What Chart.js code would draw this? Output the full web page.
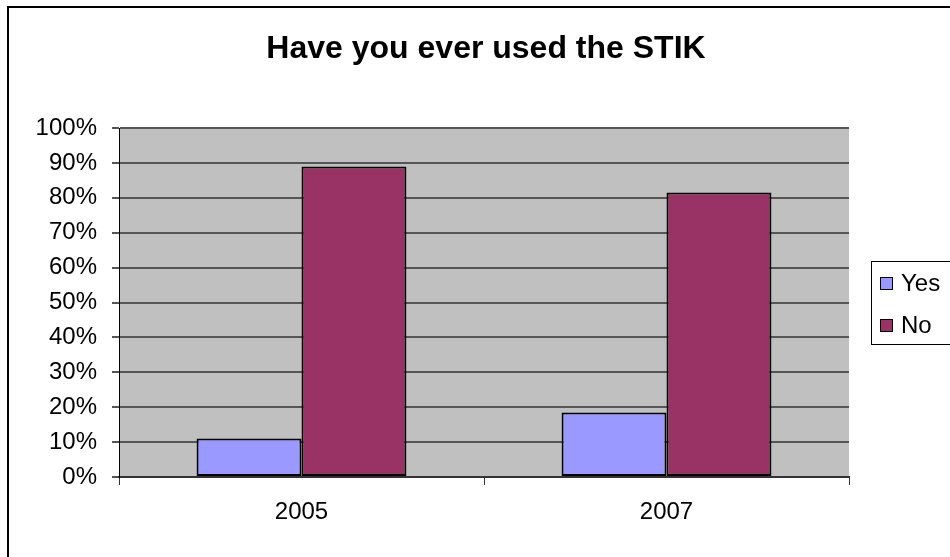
<!DOCTYPE html>
<html>
<head>
<meta charset="utf-8">
<script src="https://cdn.jsdelivr.net/npm/chart.js@4/dist/chart.umd.min.js"></script>
<style>
  html, body { margin: 0; padding: 0; background: #fff; }
  #wrap { width: 950px; height: 557px; }
</style>
</head>
<body>
<div id="wrap"><canvas id="stik" width="950" height="557"></canvas></div>
<script>
const TITLE = 'Have you ever used the STIK';
const years = ['2005', '2007'];
const yesVals = [11, 18.5];
const noVals = [89, 81.5];
const seriesNames = ['Yes', 'No'];
const seriesColors = ['#9999FF', '#993366'];

// frame, grey plot area, title and the boxed legend on the right
const excelLook = {
  id: 'excelLook',
  beforeDraw(chart) {
    const c = chart.ctx, a = chart.chartArea;
    c.save();
    c.fillStyle = '#C0C0C0';
    c.fillRect(a.left, a.top, a.right - a.left, a.bottom - a.top);
    c.restore();
  },
  afterDraw(chart) {
    const c = chart.ctx;
    c.save();
    // outer frame (only left and top edges are inside the picture)
    c.strokeStyle = '#000';
    c.lineWidth = 2;
    c.beginPath();
    c.moveTo(8, 560);
    c.lineTo(8, 7);
    c.lineTo(960, 7);
    c.stroke();

    c.fillStyle = '#000';
    c.font = 'bold 32px "Liberation Sans", Arial, sans-serif';
    c.textAlign = 'center';
    c.textBaseline = 'middle';
    c.fillText(TITLE, 486, 49);

    // legend
    c.lineWidth = 1;
    c.strokeStyle = '#000';
    c.strokeRect(871.5, 261.5, 100, 83);
    c.font = '24px "Liberation Sans", Arial, sans-serif';
    c.textAlign = 'left';
    chart.data.datasets.forEach((ds, i) => {
      const y = 283 + i * 42;
      c.fillStyle = ds.backgroundColor;
      c.fillRect(880, y - 6, 13, 13);
      c.strokeRect(880.5, y - 5.5, 12, 12);
      c.fillStyle = '#000';
      c.fillText(ds.label, 901, y + 1);
    });
    c.restore();
  }
};

new Chart(document.getElementById('stik'), {
  type: 'bar',
  data: {
    labels: years,
    datasets: [
      { label: seriesNames[0], data: yesVals, backgroundColor: seriesColors[0] },
      { label: seriesNames[1], data: noVals, backgroundColor: seriesColors[1] }
    ].map(d => Object.assign(d, {
      borderColor: '#000', borderWidth: 2, borderSkipped: false,
      categoryPercentage: 0.575, barPercentage: 1
    }))
  },
  options: {
    responsive: false,
    animation: false,
    layout: { padding: { top: 128, right: 101, left: 0, bottom: 0 } },
    plugins: { legend: { display: false }, title: { display: false }, tooltip: { enabled: false } },
    scales: {
      x: {
        grid: { display: true, drawOnChartArea: false, drawTicks: true, tickLength: 8, color: '#333', lineWidth: 1 },
        border: { color: '#333', width: 2 },
        ticks: { color: '#000', padding: 13, font: { family: '"Liberation Sans", Arial', size: 24 } },
        afterFit(s) { s.height = 80; }
      },
      y: {
        min: 0, max: 100,
        grid: { color: '#555', lineWidth: 2, tickLength: 7, drawTicks: true },
        border: { color: '#000', width: 1 },
        ticks: {
          stepSize: 10, color: '#000', padding: 15,
          font: { family: '"Liberation Sans", Arial', size: 24 },
          callback: v => v + '%'
        },
        afterFit(s) { s.width = 119; }
      }
    }
  },
  plugins: [excelLook]
});
</script>
</body>
</html>
